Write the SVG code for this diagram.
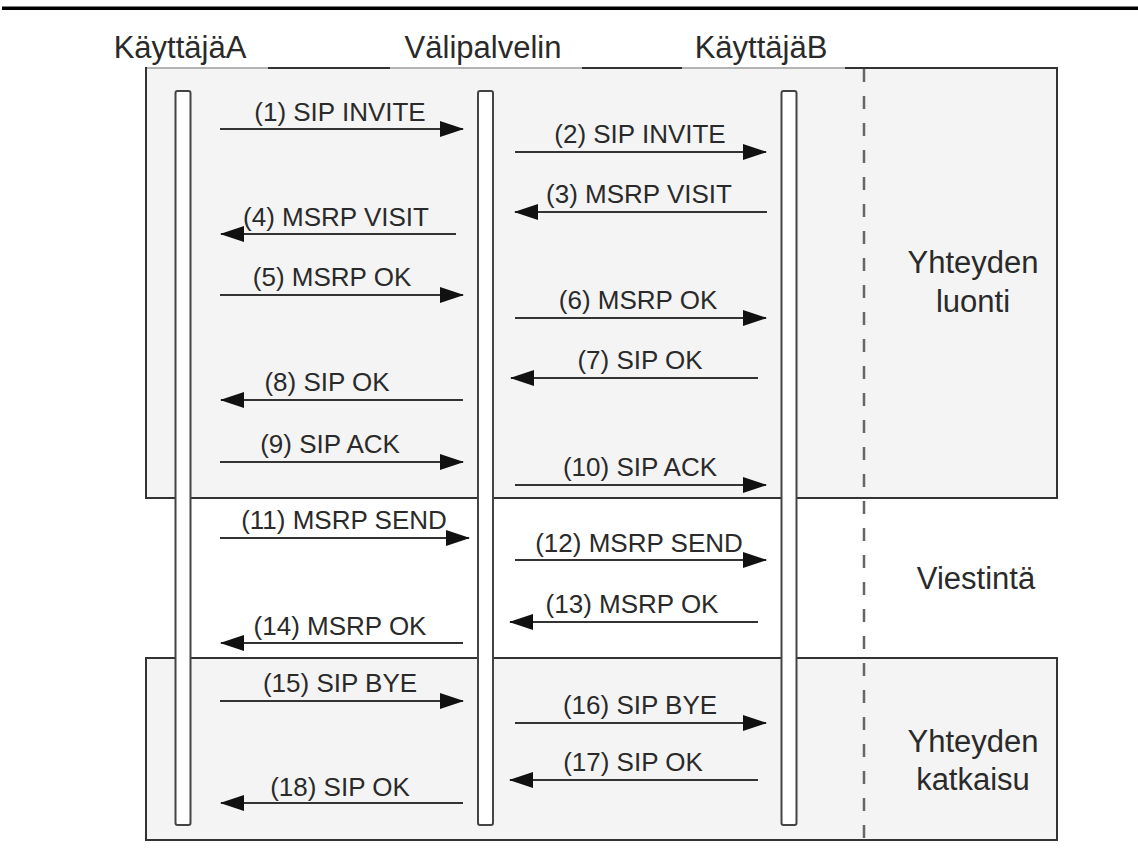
<svg xmlns="http://www.w3.org/2000/svg" width="1138" height="852" viewBox="0 0 1138 852">
  <style>
    text { font-family: "Liberation Sans", Arial, sans-serif; fill: #2a2a2a; }
    .hdr { font-size: 31px; text-anchor: middle; }
    .side { font-size: 31px; text-anchor: middle; }
    .lbl { font-size: 26px; text-anchor: middle; }
    .phase { fill: #f4f4f4; stroke: #333; stroke-width: 2; }
    .edge-light { stroke: #b4b4b4; stroke-width: 2; }
    .life { fill: #ffffff; stroke: #444; stroke-width: 2; }
    .msg { stroke: #333; stroke-width: 2; fill: none; marker-end: url(#head); }
    .sep { stroke: #666; stroke-width: 2.5; stroke-dasharray: 13 14; fill: none; }
  </style>
  <defs>
    <marker id="head" markerWidth="24" markerHeight="16" refX="23" refY="8" orient="auto" markerUnits="userSpaceOnUse">
      <path d="M0,0 L24,8 L0,16 Z" fill="#111"/>
    </marker>
  </defs>

  <rect width="1138" height="852" fill="#ffffff"/>
  <!-- page rule -->
  <rect x="2" y="6.5" width="1136" height="3.5" fill="#000"/>

  <!-- phase panels -->
  <g id="phase-setup">
    <rect class="phase" x="146" y="68" width="911" height="430"/>
    <line class="edge-light" x1="147" y1="68" x2="268" y2="68"/>
    <line class="edge-light" x1="390" y1="68" x2="582" y2="68"/>
    <line class="edge-light" x1="682" y1="68" x2="845" y2="68"/>
    <text class="side" x="973" y="273">Yhteyden</text>
    <text class="side" x="973" y="312">luonti</text>
  </g>
  <g id="phase-messaging">
    <text class="side" x="976" y="589">Viestintä</text>
  </g>
  <g id="phase-teardown">
    <rect class="phase" x="146" y="658" width="911" height="182"/>
    <text class="side" x="973" y="752">Yhteyden</text>
    <text class="side" x="973" y="790">katkaisu</text>
  </g>

  <!-- phase separator -->
  <line class="sep" x1="864" y1="69" x2="864" y2="840"/>

  <!-- participants -->
  <g id="userA">
    <text class="hdr" x="180" y="58">KäyttäjäA</text>
    <rect class="life" x="175.5" y="91" width="15" height="734" rx="2"/>
  </g>
  <g id="proxy">
    <text class="hdr" x="483" y="58">Välipalvelin</text>
    <rect class="life" x="478" y="91" width="15" height="734" rx="2"/>
  </g>
  <g id="userB">
    <text class="hdr" x="761" y="58">KäyttäjäB</text>
    <rect class="life" x="781.5" y="91" width="15" height="734" rx="2"/>
  </g>

  <!-- messages -->
  <g id="messages">
    <line class="msg" x1="220" y1="129" x2="463" y2="129"/>
    <text class="lbl" x="340" y="121">(1) SIP INVITE</text>

    <line class="msg" x1="515" y1="152" x2="766" y2="152"/>
    <text class="lbl" x="640" y="143">(2) SIP INVITE</text>

    <line class="msg" x1="767" y1="212" x2="515" y2="212"/>
    <text class="lbl" x="639" y="203">(3) MSRP VISIT</text>

    <line class="msg" x1="456" y1="234" x2="221" y2="234"/>
    <text class="lbl" x="336" y="226">(4) MSRP VISIT</text>

    <line class="msg" x1="220" y1="295" x2="463" y2="295"/>
    <text class="lbl" x="332" y="286">(5) MSRP OK</text>

    <line class="msg" x1="515" y1="318" x2="766" y2="318"/>
    <text class="lbl" x="638" y="309">(6) MSRP OK</text>

    <line class="msg" x1="758" y1="378" x2="511" y2="378"/>
    <text class="lbl" x="640" y="369">(7) SIP OK</text>

    <line class="msg" x1="463" y1="400" x2="221" y2="400"/>
    <text class="lbl" x="327" y="391">(8) SIP OK</text>

    <line class="msg" x1="220" y1="462" x2="463" y2="462"/>
    <text class="lbl" x="330" y="453">(9) SIP ACK</text>

    <line class="msg" x1="515" y1="485" x2="766" y2="485"/>
    <text class="lbl" x="640" y="476">(10) SIP ACK</text>

    <line class="msg" x1="220" y1="538" x2="469" y2="538"/>
    <text class="lbl" x="344" y="529">(11) MSRP SEND</text>

    <line class="msg" x1="515" y1="560" x2="766" y2="560"/>
    <text class="lbl" x="639" y="552">(12) MSRP SEND</text>

    <line class="msg" x1="758" y1="622" x2="510" y2="622"/>
    <text class="lbl" x="632" y="613">(13) MSRP OK</text>

    <line class="msg" x1="463" y1="643" x2="221" y2="643"/>
    <text class="lbl" x="340" y="635">(14) MSRP OK</text>

    <line class="msg" x1="220" y1="701" x2="463" y2="701"/>
    <text class="lbl" x="340" y="692">(15) SIP BYE</text>

    <line class="msg" x1="515" y1="723" x2="766" y2="723"/>
    <text class="lbl" x="640" y="714">(16) SIP BYE</text>

    <line class="msg" x1="758" y1="780" x2="510" y2="780"/>
    <text class="lbl" x="633" y="771">(17) SIP OK</text>

    <line class="msg" x1="463" y1="803" x2="221" y2="803"/>
    <text class="lbl" x="340" y="796">(18) SIP OK</text>
  </g>
</svg>
